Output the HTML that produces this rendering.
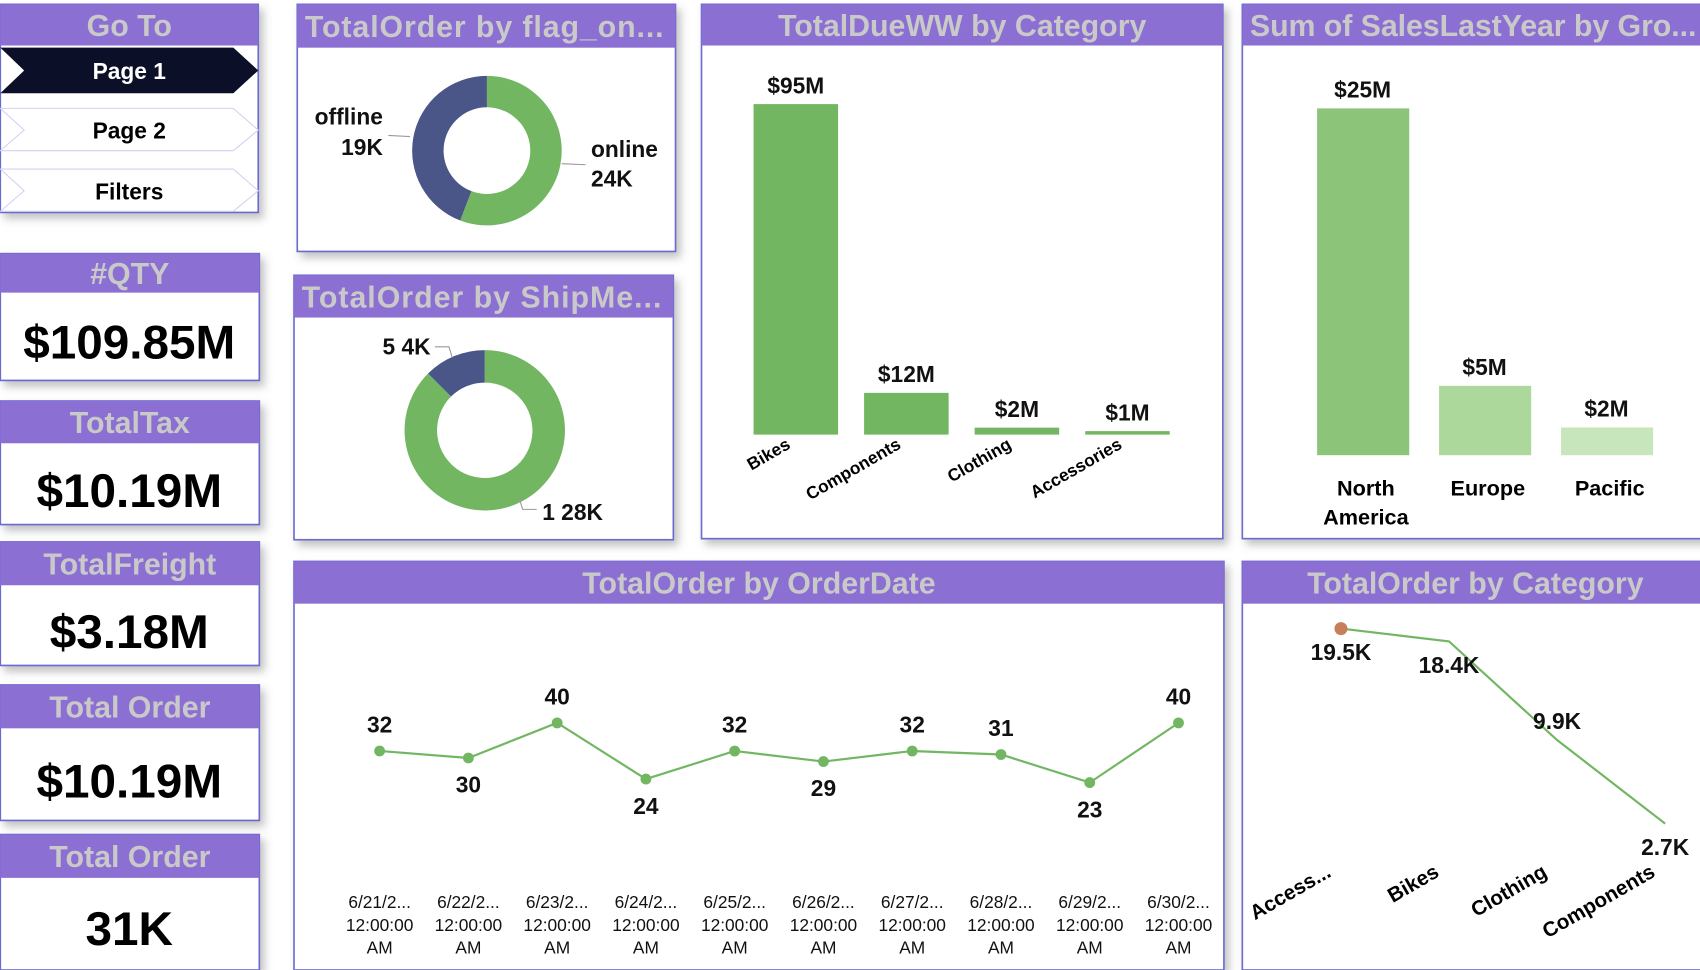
<!DOCTYPE html>
<html><head><meta charset="utf-8"><style>
html,body{margin:0;padding:0;background:#fff;width:1700px;height:970px;overflow:hidden}
svg{display:block;font-family:"Liberation Sans",sans-serif}
.ht{fill:#c9c9c9;font-weight:bold;font-size:28px}
.kv{fill:#000;font-weight:bold;font-size:44px;text-anchor:middle}
.lb{fill:#111;font-weight:bold;font-size:21px}
</style></head><body>
<svg id="dash" width="1700" height="970" viewBox="0 0 1568 895">
<defs><filter id="sh" x="-10%" y="-10%" width="130%" height="130%"><feDropShadow dx="4" dy="5" stdDeviation="4" flood-color="#777" flood-opacity="0.45"/></filter></defs>
<g id="panels"></g>
<g>
<polygon points="0,44 215,44 238,65 215,86 0,86 22,65" fill="#0b1028"/>
<text x="119" y="73" fill="#fff" font-weight="bold" font-size="21" text-anchor="middle">Page 1</text>
<polygon points="0,100 215,100 238,120 215,139 0,139 22,120" fill="#fff" stroke="#d6d0f0"/>
<text x="119" y="128" fill="#000" font-weight="bold" font-size="21" text-anchor="middle">Page 2</text>
<polygon points="0,156 215,156 238,176 215,195 0,195 22,176" fill="#fff" stroke="#d6d0f0"/>
<text x="119" y="184" fill="#000" font-weight="bold" font-size="21" text-anchor="middle">Filters</text>
</g>
<g id="charts"></g>
</svg>
<script>
const NS='http://www.w3.org/2000/svg';
function mk(parent,tag,attrs,text){const e=document.createElementNS(NS,tag);for(const k in attrs)e.setAttribute(k,attrs[k]);if(text!==undefined)e.textContent=text;parent.appendChild(e);return e;}
const P=document.getElementById('panels'),C=document.getElementById('charts');
const panelDefs=[
[0,4,238,192,38,'Go To','goto-panel'],
[0,234,239,117,36,'#QTY','qty-card'],
[0,370,239,114,39,'TotalTax','total-tax-card'],
[0,500,239,114,40,'TotalFreight','total-freight-card'],
[0,632,239,125,40,'Total Order','total-order-card'],
[0,770,239,125,40,'Total Order','total-order-count-card'],
[274,4,349,228,40,'TotalOrder by flag_on...','flag-donut-panel'],
[271,254,350,244,39,'TotalOrder by ShipMe...','shipmethod-donut-panel'],
[647,4,481,493,38,'TotalDueWW by Category','duew-bar-panel'],
[1146,4,430,493,38,'Sum of SalesLastYear by Gro...','sales-bar-panel'],
[271,518,858,377,39,'TotalOrder by OrderDate','orderdate-line-panel'],
[1146,518,430,377,39,'TotalOrder by Category','category-line-panel']];
panelDefs.forEach(d=>{
 const g=mk(P,'g',{});
 
 
 mk(g,'rect',{x:d[0],y:d[1],width:d[2],height:d[3],fill:'#fff',stroke:'#6a6ad2','stroke-width':1.5,filter:'url(#sh)'});
 const h=mk(g,'rect',{x:d[0],y:d[1],width:d[2],height:d[4],fill:'#8c6fd2'});
 
 
 const left=(d[6]==='flag-donut-panel'||d[6]==='shipmethod-donut-panel'||d[6]==='sales-bar-panel');
 const t=mk(g,'text',{x:left?d[0]+7:d[0]+d[2]/2,y:d[1]+d[4]/2+10,class:'ht','text-anchor':left?'start':'middle'},d[5]);
 if(left)t.setAttribute('textLength',d[2]-18);
 
 
});
const kpiValues=['$109.85M','$10.19M','$3.18M','$10.19M','31K'];
const kpiY=[331,468,598,736,872];
kpiValues.forEach((v,i)=>{const t=mk(C,'text',{x:119,y:kpiY[i],class:'kv'},v);
 
 });

const flagCats=['online','offline'];
const flagVals=[24,19];
const flagLabels=['24K','19K'];
const shipCats=['1','5'];
const shipVals=[28,4];
const shipLabels=['28K','4K'];
const donutColors=['#72b662','#4a5688'];
function donut(cx,cy,R,r,vals,name){
 const tot=vals.reduce((a,b)=>a+b,0);let a0=-Math.PI/2;
 vals.forEach((v,i)=>{const a1=a0+v/tot*2*Math.PI;const lg=(a1-a0)>Math.PI?1:0;
  const p=`M${cx+R*Math.cos(a0)},${cy+R*Math.sin(a0)} A${R},${R} 0 ${lg} 1 ${cx+R*Math.cos(a1)},${cy+R*Math.sin(a1)} L${cx+r*Math.cos(a1)},${cy+r*Math.sin(a1)} A${r},${r} 0 ${lg} 0 ${cx+r*Math.cos(a0)},${cy+r*Math.sin(a0)}Z`;
  const s=mk(C,'path',{d:p,fill:donutColors[i]});
  
  
  a0=a1;});
}
donut(449,139,69,40,flagVals,'flag');
donut(447,397,74,44,shipVals,'shipmethod');
[[353,115,'end',flagCats[1]],[353,143,'end',flagLabels[1]],[545,145,'start',flagCats[0]],[545,172,'start',flagLabels[0]]].forEach(a=>{const t=mk(C,'text',{x:a[0],y:a[1],'text-anchor':a[2],class:'lb'},a[3]);
 
 });
mk(C,'path',{d:'M358,125 L378,126 M518,151 L540,152',stroke:'#999',fill:'none'});
mk(C,'path',{d:'M401,320 L414,320 L417,330 M478,457 L482,470 L495,470',stroke:'#999',fill:'none'});
[[397,327,'end',shipCats[1]+' '+shipLabels[1]],[500,480,'start',shipCats[0]+' '+shipLabels[0]]].forEach(a=>{const t=mk(C,'text',{x:a[0],y:a[1],'text-anchor':a[2],class:'lb'},a[3]);
 
 });

const dueCats=['Bikes','Components','Clothing','Accessories'];
const dueVals=[95,12,2,1];
const dueLabels=['$95M','$12M','$2M','$1M'];
const dueX=i=>734+i*102, dueY=v=>401-v*3.21;
dueVals.forEach((v,i)=>{const top=Math.min(dueY(v),398);
 const b=mk(C,'rect',{x:dueX(i)-39,y:top,width:78,height:401-top,fill:'#72b662'});
 
 
 const t=mk(C,'text',{x:dueX(i),y:top-10,'text-anchor':'middle',class:'lb'},dueLabels[i]);
 
 
 const c=mk(C,'text',{x:dueX(i)-4,y:413,'text-anchor':'end','font-size':16,'font-weight':'bold',transform:`rotate(-30 ${dueX(i)-4} 413)`},dueCats[i]);
 
 });

const salesCats=[['North','America'],['Europe'],['Pacific']];
const salesVals=[25,5,2];
const salesLabels=['$25M','$5M','$2M'];
const salesColors=['#8cc47a','#acd89c','#c8e6bc'];
const sX=i=>1257+i*112.5, sY=v=>420-v*12.8;
salesVals.forEach((v,i)=>{const b=mk(C,'rect',{x:sX(i)-42,y:sY(v),width:85,height:420-sY(v),fill:salesColors[i]});
 
 
 const t=mk(C,'text',{x:sX(i),y:sY(v)-10,'text-anchor':'middle',class:'lb'},salesLabels[i]);
 
 
 salesCats[i].forEach((w,j)=>{const c=mk(C,'text',{x:sX(i)+3,y:457+j*27,'text-anchor':'middle','font-size':20,'font-weight':'bold'},w);
  
  });});

const dateCats=['6/21/2...','6/22/2...','6/23/2...','6/24/2...','6/25/2...','6/26/2...','6/27/2...','6/28/2...','6/29/2...','6/30/2...'];
const dateVals=[32,30,40,24,32,29,32,31,23,40];
const dX=i=>350+i*81.9, dY=v=>667+(40-v)*3.24;
const dl=mk(C,'polyline',{points:dateVals.map((v,i)=>dX(i)+','+dY(v)).join(' '),fill:'none',stroke:'#72b662','stroke-width':2});


dateVals.forEach((v,i)=>{const p=mk(C,'circle',{cx:dX(i),cy:dY(v),r:5,fill:'#72b662'});
 
 
 const above=v>=31;
 const t=mk(C,'text',{x:dX(i),y:above?dY(v)-17:dY(v)+32,'text-anchor':'middle',class:'lb'},String(v));
 
 
 [dateCats[i],'12:00:00','AM'].forEach((w,j)=>{const c=mk(C,'text',{x:dX(i),y:838+j*21,'text-anchor':'middle','font-size':16,fill:'#111'},w);
  
  });});

const catCats=['Access...','Bikes','Clothing','Components'];
const catVals=[19.5,18.4,9.9,2.7];
const catLabels=['19.5K','18.4K','9.9K','2.7K'];
const cX=i=>1237+i*99.7, cY=v=>580+(19.5-v)*10.71;
const cl=mk(C,'polyline',{points:catVals.map((v,i)=>cX(i)+','+cY(v)).join(' '),fill:'none',stroke:'#72b662','stroke-width':2});


const dot=mk(C,'circle',{cx:cX(0),cy:cY(catVals[0]),r:6,fill:'#c67f58'});


catVals.forEach((v,i)=>{const mid=(i>0&&i<catVals.length-1&&catVals[i-1]-v>5);
 const t=mk(C,'text',{x:cX(i),y:mid?cY(v)-10:cY(v)+29,'text-anchor':'middle',class:'lb'},catLabels[i]);
 
 
 const ax=cX(i)-8, ay=808;
 const c=mk(C,'text',{x:ax,y:ay,'text-anchor':'end','font-size':19,'font-weight':'bold',transform:`rotate(-30 ${ax} ${ay})`},catCats[i]);
 
 });
</script>
</body></html>
